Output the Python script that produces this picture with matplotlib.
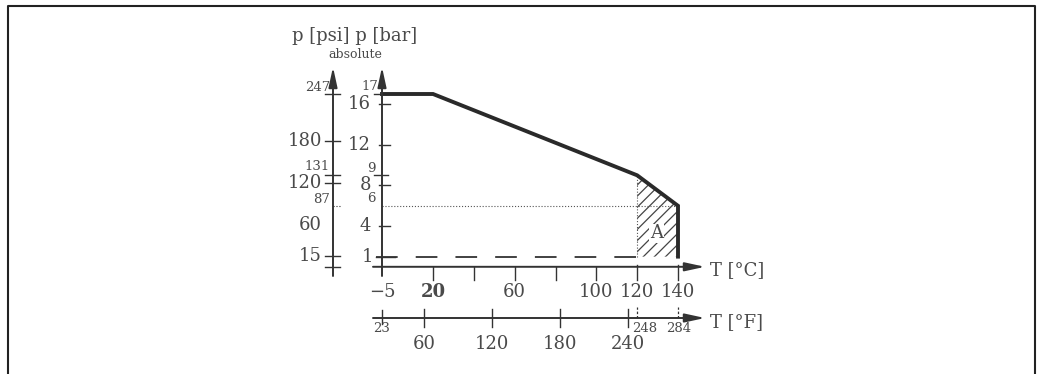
import numpy as np
import matplotlib.pyplot as plt
from matplotlib.lines import Line2D

# pressure curve (T in degC, p in bar absolute)
curve_t = [-5, 20, 120, 140, 140]
curve_p = [17, 17, 9, 6, 1]

# region A (hatched)
area_t = [120, 120, 140, 140]
area_p = [1, 9, 6, 1]

bar_major = [1, 4, 8, 12, 16]
bar_minor = [6, 9, 17]
psi_major = [15, 60, 120, 180]
psi_minor = [87, 131, 247]
psi_ticked = [0, 15, 120, 131, 180, 247]

c_ticks = [20, 40, 60, 80, 100, 120, 140]
c_labels = [-5, 20, 60, 100, 120, 140]
f_major = [60, 120, 180, 240]
f_minor = [23, 248, 284]

LINE = '#333333'
TEXT = '#4a4a4a'
FONT = 'DejaVu Serif'
plt.rcParams['font.family'] = FONT
plt.rcParams['hatch.linewidth'] = 0.9

W, H = 1042, 374
# pixel position of origin (-5 degC, 0 bar) and scale
X0, Y0 = 382.0, 266.8
kx = 145 / 296.0      # degC per pixel
ky = 17 / 172.8       # bar per pixel


def pt(px):
    return px * 0.72


def f2c(f):
    return (f - 32) * 5 / 9.0


def psi2bar(p):
    return p / 14.5038


fig = plt.figure(figsize=(W / 100, H / 100), dpi=100)
ax = fig.add_axes([0, 0, 1, 1])
ax.set_xlim(-5 - X0 * kx, -5 + (W - X0) * kx)
ax.set_ylim(-(H - Y0) * ky, Y0 * ky)
ax.axis('off')

# frame
fig.add_artist(Line2D([8 / W, 8 / W, 1035 / W, 1035 / W], [0, 1 - 6 / H, 1 - 6 / H, 0],
                      transform=fig.transFigure, color='#222222', lw=1.5))

X_PSI = -5 - 49 * kx
Y_F = -51.2 * ky
arrow = dict(arrowstyle='-|>,head_length=0.6,head_width=0.13', color=LINE, lw=1.4,
             shrinkA=0, shrinkB=0, mutation_scale=20)

# vertical axes
for xa in [X_PSI, -5]:
    ax.annotate('', xy=(xa, 199.8 * ky), xytext=(xa, -9.2 * ky), arrowprops=arrow)
# horizontal axes
for ya in [0, Y_F]:
    ax.annotate('', xy=(-5 + 323 * kx, ya), xytext=(-5 - 9 * kx, ya), arrowprops=arrow)


def label(x, y, s, dx=0, dy=0, size=13, ha='center', va='center', **kw):
    ax.annotate(s, xy=(x, y), xytext=(pt(dx), pt(dy)), textcoords='offset points',
                ha=ha, va=va, fontsize=size, color=TEXT, **kw)


# bar ticks
for b in [4, 8, 12, 16]:
    ax.plot([-5 - 3 * kx, -5 + 8 * kx], [b, b], color=LINE, lw=1.0)
ax.plot([-5 - 6 * kx, -5 + 13 * kx], [1, 1], color=LINE, lw=1.0)
for b in [9, 17]:
    ax.plot([-5 - 8 * kx, -5 + 6 * kx], [b, b], color=LINE, lw=1.0)
for b in bar_major:
    label(-5, b, str(b), dx=-11 if b != 1 else -9, ha='right')
for b in bar_minor:
    label(-5, b, str(b), dx=-4 if b == 17 else -6, dy=7, size=9.5, ha='right')

# psi ticks
for p in psi_ticked:
    ax.plot([X_PSI - 8 * kx, X_PSI + 7 * kx], [psi2bar(p)] * 2, color=LINE, lw=1.0)
ax.plot([X_PSI, X_PSI + 8 * kx], [6, 6], color=LINE, lw=0.8, ls=':')
for p in psi_major:
    label(X_PSI, psi2bar(p), str(p), dx=-11, ha='right')
for p in psi_minor:
    label(X_PSI, psi2bar(p), str(p), dx=-3, dy=6 if p != 131 else 8, size=9.5, ha='right')

# axis titles
ax.text(-5 - 27 * kx, (Y0 - 36) * ky, 'p [psi] p [bar]', ha='center', va='center',
        fontsize=13, color=TEXT)
ax.text(-5 - 27 * kx, (Y0 - 54) * ky, 'absolute', ha='center', va='center',
        fontsize=9, color=TEXT)
label(-5 + 323 * kx, 0, 'T [°C]', dx=5, dy=-3, ha='left')
label(-5 + 323 * kx, Y_F, 'T [°F]', dx=5, dy=-4, ha='left')

# celsius ticks
for c in c_ticks:
    top = 2 if c >= 120 else 0
    ax.plot([c, c], [top * ky, -13 * ky], color=LINE, lw=1.0)
for c in c_labels:
    label(c, 0, '\u2212' + str(-c) if c < 0 else str(c), dy=-25,
          fontweight='bold' if c == 20 else 'normal')

# fahrenheit ticks
for f in f_major:
    ax.plot([f2c(f)] * 2, [Y_F + 9 * ky, Y_F - 9 * ky], color=LINE, lw=1.0)
    label(f2c(f), Y_F, str(f), dy=-26)
ax.plot([f2c(23)] * 2, [Y_F + 8 * ky, Y_F - 6 * ky], color=LINE, lw=1.0)
for f in [248, 284]:
    ax.plot([f2c(f)] * 2, [Y_F, Y_F + 11 * ky], color=LINE, lw=0.9, ls=(0, (2, 1.5)))
for f, dx in zip(f_minor, [0, 8, 1]):
    label(f2c(f), Y_F, str(f), dx=dx, dy=-10, size=9.5)

# reference lines
ax.plot([-5, 140], [6, 6], color='#555555', lw=0.8, ls=':')
ax.plot([120, 120], [1, 9], color='#555555', lw=0.8, ls=':')
ax.plot([-5 - 6 * kx, 120], [1, 1], color=LINE, lw=1.3, ls=(0, (12, 10)))

# hatched region A
ax.fill(area_t, area_p, facecolor='none', edgecolor='#444444', hatch='///', lw=0)
ax.text(129.5, 3.3, 'A', ha='center', va='center', fontsize=13, color=TEXT,
        bbox=dict(facecolor='white', edgecolor='none', pad=0.5))

# curve
ax.plot(curve_t, curve_p, color='#2a2a2a', lw=2.8, solid_joinstyle='miter')

fig.savefig('out.png', dpi=100)
